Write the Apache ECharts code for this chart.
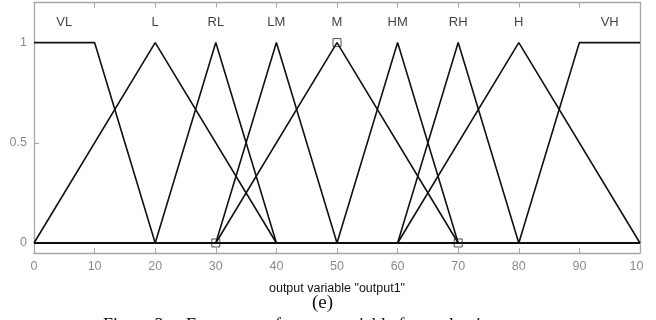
<!DOCTYPE html>
<html><head><meta charset="utf-8">
<script src="https://cdn.jsdelivr.net/npm/echarts@6/dist/echarts.min.js"></script>
<style>html,body{margin:0;padding:0;background:#fff}#c{width:656px;height:320px}</style>
</head><body><div id="c"></div>
<script>
// Membership functions (x breakpoints, y values) over the output range 0..100
const mfNames = ['VL','L','RL','LM','M','HM','RH','H','VH'];
const mfX = [
  [0,10,20,100],
  [0,20,40,100],
  [0,20,30,40,100],
  [0,30,40,50,100],
  [0,30,50,70,100],
  [0,50,60,70,100],
  [0,60,70,80,100],
  [0,60,80,100],
  [0,80,90,100]
];
const mfY = [
  [1,1,0,0],
  [0,1,0,0],
  [0,0,1,0,0],
  [0,0,1,0,0],
  [0,0,1,0,0],
  [0,0,1,0,0],
  [0,0,1,0,0],
  [0,0,1,0],
  [0,0,1,1]
];
const labelX = [5,20,30,40,50,60,70,80,95];
const labelY = 1.1;
const markerX = [30,50,70];
const markerY = [0,1,0];
const yTicks = [0,0.5,1];
const xTitle = 'output variable "output1"';
const subCaption = '(e)';
const caption = 'Figure 3.    Fuzzy sets of output variable for evaluation';

const gray = '#a6a6a6';
const series = mfNames.map((n,i)=>({
  type:'line', name:n, xAxisIndex:0, yAxisIndex:0,
  data: mfX[i].map((x,j)=>[x,mfY[i][j]]),
  showSymbol:false, symbol:'none', silent:true, animation:false,
  lineStyle:{color:'#111', width:1.6}
}));
series.push({
  type:'scatter', xAxisIndex:0, yAxisIndex:0, animation:false,
  data: markerX.map((x,i)=>[x,markerY[i]]),
  symbol:'rect', symbolSize:8,
  itemStyle:{color:'rgba(0,0,0,0)', borderColor:'#222', borderWidth:1}, z:5
});
series.push({
  type:'scatter', xAxisIndex:0, yAxisIndex:0, animation:false,
  data: labelX.map((x,i)=>({value:[x,labelY], name:mfNames[i]})),
  symbolSize:0,
  label:{show:true, position:'inside', formatter:p=>p.name, color:'#111',
         fontFamily:'Liberation Sans, Arial', fontSize:13}
});

const chart = echarts.init(document.getElementById('c'), null, {renderer:'canvas'});
chart.setOption({
  animation:false,
  grid:{left:34, right:16, top:2.5, bottom:67, containLabel:false},
  xAxis:[{
    type:'value', min:0, max:100, interval:10, position:'bottom',
    axisLine:{show:true, onZero:false, lineStyle:{color:gray, width:1.3}},
    axisTick:{show:true, inside:true, length:5, lineStyle:{color:gray}},
    axisLabel:{color:'#8a8a8a', fontSize:12.5, margin:7, fontFamily:'Liberation Sans, Arial'},
    splitLine:{show:false},
    name:xTitle, nameLocation:'middle', nameGap:29,
    nameTextStyle:{color:'#111', fontSize:12.5, fontFamily:'Liberation Sans, Arial'}
  },{
    type:'value', min:0, max:100, interval:10, position:'top',
    axisLine:{show:true, onZero:false, lineStyle:{color:gray, width:1.3}},
    axisTick:{show:true, inside:true, length:5, lineStyle:{color:gray}},
    axisLabel:{show:false}, splitLine:{show:false}
  }],
  yAxis:[{
    type:'value', min:-0.05, max:1.2, position:'left',
    axisLine:{show:true, onZero:false, lineStyle:{color:gray, width:1.3}},
    axisTick:{show:true, inside:true, length:5, customValues:yTicks, lineStyle:{color:gray}},
    axisLabel:{color:'#8a8a8a', fontSize:12.5, margin:7, customValues:yTicks,
               fontFamily:'Liberation Sans, Arial'},
    splitLine:{show:false}
  },{
    type:'value', min:-0.05, max:1.2, position:'right',
    axisLine:{show:true, onZero:false, lineStyle:{color:gray, width:1.3}},
    axisTick:{show:false}, axisLabel:{show:false}, splitLine:{show:false}
  }],
  series: series,
  graphic:[
    {type:'rect', right:0, top:0, shape:{width:12, height:320}, style:{fill:'#fff'}, z:100},
    {type:'text', left:312, top:294, z:100,
     style:{text:subCaption, font:'19px "Liberation Serif", "Times New Roman", serif', fill:'#111'}},
    {type:'text', left:103, top:317, z:100,
     style:{text:caption, font:'18px "Liberation Serif", "Times New Roman", serif', fill:'#111'}}
  ]
});
</script></body></html>
